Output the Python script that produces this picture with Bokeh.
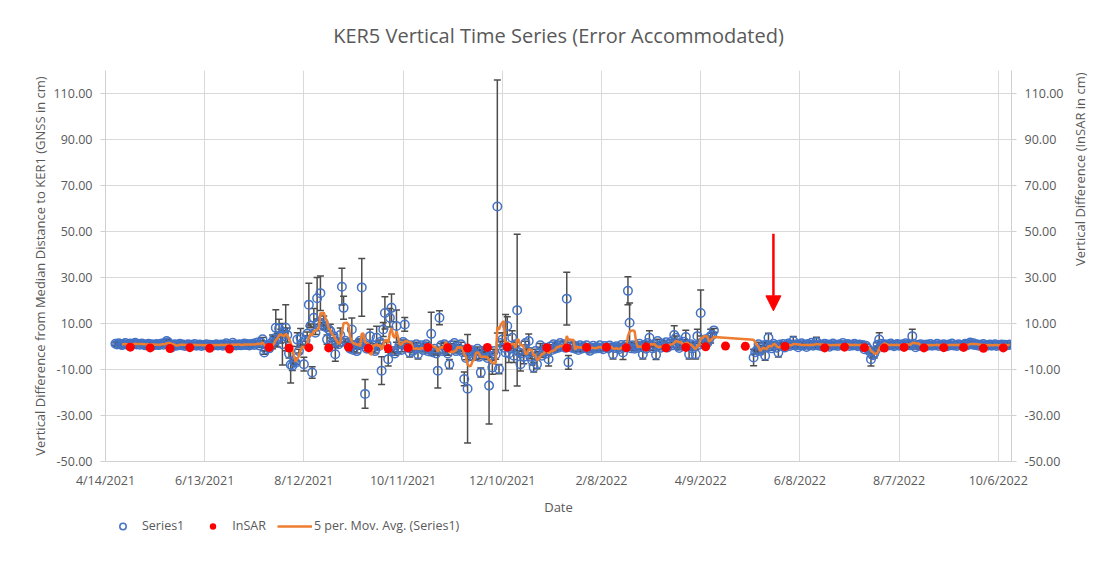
import math
import pandas as pd
from bokeh.plotting import figure
from bokeh.layouts import column
from bokeh.models import (ColumnDataSource, Range1d, LinearAxis, FixedTicker, NumeralTickFormatter,
                          Whisker, TeeHead, Legend, LegendItem, Arrow, NormalHead, Label)
from bokeh.embed import file_html
from bokeh.resources import INLINE

# ---------------- data ----------------
title_text = "KER5 Vertical Time Series (Error Accommodated)"
x_tick_dates = ["2021-04-14", "2021-06-13", "2021-08-12", "2021-10-11", "2021-12-10",
                "2022-02-08", "2022-04-09", "2022-06-08", "2022-08-07", "2022-10-06"]
x_tick_labels = ["4/14/2021", "6/13/2021", "8/12/2021", "10/11/2021", "12/10/2021",
                 "2/8/2022", "4/9/2022", "6/8/2022", "8/7/2022", "10/6/2022"]
x_start, x_end = "2021-04-14", "2022-10-14"
y_ticks = [-50, -30, -10, 10, 30, 50, 70, 90, 110]
y_min, y_max = -50, 120

# GNSS daily solutions (cm), in four continuous daily segments
gnss_seg_starts = ["2021-04-20", "2021-07-15", "2022-02-01", "2022-05-11"]
gnss_seg1 = [1.2, 0.9, 1.4, 1.0, 0.6, 1.1, 1.5, 0.8, 1.0, 1.3, 0.7, 1.2, 1.6, 0.9, 1.1,
             0.8, 1.3, 1.0, 0.5, 0.9, 1.2, 0.7, 1.0, 0.4, 0.8, 1.1, 0.6, 0.9, 1.3, 0.8,
             1.5, 2.4, 1.8, 0.7, -0.4, 0.6, 1.0, 0.3, 0.8, 1.2, 0.5, 0.9, 0.2, 0.7, 1.0,
             0.4, 0.8, 0.5, 1.1, 0.3, 0.6, 0.9, 0.2, 0.7, 0.5, 1.0, 0.4, 0.8, 0.6, 0.3,
             0.7, 1.0, 0.4, 0.6, 0.9, 0.3, 0.8, 1.4, 0.5, 0.2, 0.7, 1.6, 0.9, 0.4, 0.6,
             1.0, 0.5, 0.8, 1.3, 0.6, 1.1, 0.4, 0.9, 1.2, 0.7, 1.5]
gnss_seg2 = [1.7, 0.4, 1.7, 3.1, -2.6, -1.2, 0.5, -0.8, 1.2, 2.0,
             3.5, 8.1, 2.8, 7.8, 4.5, 1.0, 6.0, 8.1, 5.0, -3.0,
             -7.9, -8.4, -6.5, -7.0, 3.0, -2.0, 3.8, 1.5, -7.7, 2.7,
             5.5, 18.2, 9.0, -11.3, 12.5, 6.0, 21.0, 10.5, 23.2, 9.5,
             10.3, 8.5, 3.0, 7.5, 6.7, 1.5, 4.5, -3.4, 2.0, 1.0,
             5.0, 26.0, 16.8, 2.5, 1.5, 0.5, -1.0, 7.4, -1.5, 0.5,
             -2.0, 1.0, 2.5, 25.7, 1.0, -20.6, -1.0, 0.5, 4.5, -1.5,
             0.5, -2.0, 3.8, 0.0, 2.0, -10.5, 7.4, 14.6, 1.0, -5.5,
             12.5, 16.8, -2.0, -3.0, 8.9, -1.0, 1.0, -1.5, 2.0, 9.6,
             1.0, -0.5, -2.6, 0.5, -1.9, -1.0, 1.0, -3.4, -0.5, 0.5,
             -1.5, 0.0, 1.0, -2.0, -1.0, 5.5, -2.5, -1.0, -3.0, -10.5,
             12.5, 0.5, -2.0, 1.0, -1.5, -3.0, -7.7, 0.5, -1.0, 1.5,
             -2.0, 0.0, -1.5, 1.0, -2.5, -14.1, -5.0, -18.4, -3.0, -1.5,
             -4.0, -2.5, -3.5, -1.0, -4.5, -11.3, -2.0, -3.5, -1.5, -5.0,
             -17.0, -4.0, -9.1, -2.0, -3.5, 60.9, -9.8, 1.5, 3.0, -0.5,
             -2.6, 8.9, -3.0, -1.0, 3.8, -4.0, 1.0, 15.8, -2.5, -7.7,
             -3.0, -4.5, 1.5, -2.0, 2.4, -4.5, -6.0, -9.1, -2.0, -7.7,
             -3.0, 0.5, -4.0, -2.0, -0.5, -3.0, -5.5, 0.0, -1.5, 1.0,
             -1.0, 0.5, -0.5, 1.5, 0.0, 1.0, -0.5, 20.8, -6.9, 1.0,
             -0.5, 0.5, -1.0, 0.0, -1.5, 0.5, -1.0, 0.0, -0.5, 0.5,
             -1.0]
gnss_seg3 = [-1.9, -0.5, 0.3, -1.0, -0.2, -0.8, 0.5, -0.6, -1.2, 0.2,
             -0.4, -0.9, 0.4, -0.3, -3.4, -0.7, 0.1, -0.5, -1.1, 0.6,
             -2.6, -0.4, 0.8, 24.2, 10.3, -0.8, 0.5, -1.0, 0.2, -0.6,
             1.2, -0.3, -3.4, 0.8, -1.0, 1.5, 3.8, 0.5, -0.8, 1.0,
             -3.6, 2.4, 0.3, -0.5, 1.2, 0.0, 1.8, -0.4, 0.9, 2.0,
             0.5, 5.0, 3.8, 0.2, -0.6, 1.5, 0.3, 2.1, 4.1, 0.5,
             -3.4, 1.0, -0.8, 0.4, -3.4, 4.5, 0.8, 14.6, 2.0, 1.0,
             3.2, 1.5, 2.8, 4.5, 5.0, 7.0]
gnss_seg4 = [-4.8, -2.5, -1.5, 1.0, -2.0, -0.5, 0.5, -4.0, 0.8, 3.8,
             0.2, -0.8, 1.2, 0.4, -0.5, -2.6, 0.9, 0.3, 1.1, -0.4,
             0.7, 1.3, 0.2, 0.8, 2.4, 0.5, 1.0, -0.3, 0.6, 1.4,
             0.4, 0.9, -0.2, 1.1, 0.5, 1.6, 0.3, 0.8, 2.0, 0.4,
             1.0, 0.1, 0.7, 1.2, 0.3, 0.9, -0.1, 0.6, 1.3, 0.4,
             0.8, 0.2, 1.0, 0.5, 1.5, 0.3, 0.7, 1.1, 0.2, 0.8,
             0.4, 1.2, 0.6, 0.1, 0.9, 0.4, 0.7, -1.2, 0.3, -0.8,
             -2.0, -5.5, -3.8, -3.0, -1.5, 0.8, 3.0, 1.2, 0.5, 1.0,
             0.2, 0.9, 0.4, 1.3, 0.6, 0.1, 0.8, 1.1, 0.3, 0.7,
             1.0, 0.4, 1.4, 0.6, 0.9, 0.5, 4.5, 1.2, -0.3, 0.7,
             0.2, 1.0, 0.5, 0.8, 0.1, 0.9, 0.4, 1.1, 0.3, 0.7,
             0.5, 1.2, 0.2, 0.8, 0.4, 1.0, 0.6, 0.1, 0.9, 0.5,
             1.3, 0.4, 0.7, 0.2, 1.0, 0.6, 0.3, 0.8, 1.2, 0.5,
             1.1, 1.7, 0.9, 1.4, 0.6, 1.0, 0.3, 0.8, 0.5, 1.1,
             0.2, 0.7, 0.4, 0.9, 0.3, 0.6, 1.0, 0.2, 0.7, 0.5,
             0.9, 0.3, 0.8, 0.4, 0.6, 0.9]

gnss_default_error = 0.8
gnss_errors = {
    "2021-07-24": 3.0, "2021-07-26": 7.9, "2021-07-27": 3.0, "2021-07-28": 4.0, "2021-07-29": 3.0,
    "2021-07-30": 9.0, "2021-08-01": 10.0, "2021-08-02": 3.0, "2021-08-03": 2.0, "2021-08-04": 8.0,
    "2021-08-05": 2.0, "2021-08-08": 3.0, "2021-08-10": 4.0, "2021-08-12": 3.0, "2021-08-13": 2.0,
    "2021-08-15": 9.3, "2021-08-17": 2.5, "2021-08-18": 4.0, "2021-08-20": 9.0, "2021-08-22": 7.5,
    "2021-08-24": 3.0, "2021-08-26": 2.0, "2021-08-28": 3.0, "2021-08-31": 3.0, "2021-09-03": 3.0,
    "2021-09-04": 8.0, "2021-09-05": 5.0, "2021-09-10": 5.0, "2021-09-14": 2.0, "2021-09-16": 12.6,
    "2021-09-18": 6.2, "2021-09-21": 3.0, "2021-09-25": 5.0, "2021-09-28": 6.0, "2021-09-29": 3.0,
    "2021-09-30": 7.0, "2021-10-02": 3.0, "2021-10-03": 4.0, "2021-10-04": 6.0, "2021-10-07": 7.0,
    "2021-10-08": 2.0, "2021-10-12": 3.0, "2021-10-15": 2.0, "2021-10-20": 2.0, "2021-10-28": 9.4,
    "2021-11-01": 7.5, "2021-11-02": 3.0, "2021-11-06": 2.0, "2021-11-08": 2.0, "2021-11-17": 3.0,
    "2021-11-19": 23.6, "2021-11-22": 2.0, "2021-11-24": 2.0, "2021-11-27": 2.0, "2021-12-02": 16.7,
    "2021-12-04": 3.0, "2021-12-06": 2.0, "2021-12-07": 55.0, "2021-12-08": 2.0, "2021-12-10": 3.0,
    "2021-12-12": 16.5, "2021-12-13": 4.0, "2021-12-14": 4.0, "2021-12-16": 3.0, "2021-12-17": 3.0,
    "2021-12-19": 33.0, "2021-12-21": 3.0, "2021-12-23": 3.0, "2021-12-26": 3.0, "2021-12-28": 2.0,
    "2021-12-29": 2.0, "2021-12-31": 2.0, "2022-01-07": 3.0, "2022-01-18": 11.5, "2022-01-19": 3.0,
    "2022-02-15": 2.0, "2022-02-21": 3.0, "2022-02-24": 6.1, "2022-02-25": 8.6, "2022-03-05": 2.0,
    "2022-03-09": 3.0, "2022-03-13": 2.0, "2022-03-24": 4.0, "2022-03-31": 3.0, "2022-04-02": 2.0,
    "2022-04-06": 2.0, "2022-04-07": 3.0, "2022-04-09": 10.0, "2022-04-15": 3.0,
    "2022-05-11": 3.6, "2022-05-18": 2.0, "2022-05-20": 2.0, "2022-05-26": 2.0, "2022-06-04": 2.0,
    "2022-06-18": 2.0, "2022-07-21": 3.0, "2022-07-23": 2.0, "2022-07-26": 3.0, "2022-08-15": 3.0,
}

insar_dates = ["2021-04-29", "2021-05-11", "2021-05-23", "2021-06-04", "2021-06-16", "2021-06-28",
               "2021-07-22", "2021-08-03", "2021-08-15", "2021-08-27", "2021-09-08", "2021-09-20",
               "2021-10-02", "2021-10-14", "2021-10-26", "2021-11-07", "2021-11-19", "2021-12-01",
               "2021-12-13", "2022-01-06", "2022-01-18", "2022-01-30", "2022-02-11", "2022-02-23",
               "2022-03-07", "2022-03-19", "2022-03-31", "2022-04-12", "2022-04-24", "2022-05-06",
               "2022-05-30", "2022-06-23", "2022-07-05", "2022-07-17", "2022-07-29", "2022-08-10",
               "2022-08-22", "2022-09-03", "2022-09-15", "2022-09-27", "2022-10-09"]
insar_values = [-0.3, -0.6, -0.9, -0.5, -0.8, -1.1,
                -0.4, -0.7, -0.5, -0.6, -0.3, -0.8,
                -0.9, -0.6, -0.4, -0.5, -0.7, -0.4,
                -0.2, -0.5, -0.6, -0.4, -0.3, -0.5,
                -0.2, -0.6, -0.4, -0.1, 0.2, 0.1,
                0.0, -0.6, -0.3, -0.5, -0.7, -0.4,
                -0.6, -0.5, -0.4, -0.8, -0.6]

ma_period = 5
legend_labels = ["Series1", "InSAR", "5 per. Mov. Avg. (Series1)"]

# annotation arrow (data coordinates)
arrow_date = "2022-05-23"
arrow_y_start, arrow_y_end = 49.0, 15.5

# ---------------- build sources ----------------
dates, vals = [], []
for start, seg in zip(gnss_seg_starts, [gnss_seg1, gnss_seg2, gnss_seg3, gnss_seg4]):
    dates.extend(pd.date_range(start, periods=len(seg), freq="D"))
    vals.extend(seg)
gdf = pd.DataFrame({"date": pd.to_datetime(dates), "value": vals})
gdf["err"] = [gnss_errors.get(d.strftime("%Y-%m-%d"), gnss_default_error) for d in gdf["date"]]
gdf["upper"] = gdf["value"] + gdf["err"]
gdf["lower"] = gdf["value"] - gdf["err"]
gdf["ma"] = gdf["value"].rolling(ma_period).mean()
gsrc = ColumnDataSource(gdf)
masrc = ColumnDataSource(gdf.dropna(subset=["ma"]))
isrc = ColumnDataSource(pd.DataFrame({"date": pd.to_datetime(insar_dates), "value": insar_values}))

def ms(d):
    return int(pd.Timestamp(d).value // 10**6)

GRAY = "#595959"
FONT = "Open Sans"
BLUE, RED, ORANGE, EB = "#4472C4", "#FF0000", "#ED7D31", "#4d4d4d"
W = 1100
H_TITLE, H_MAIN, H_LEG = 50, 468, 60

# ---------------- title strip ----------------
pt = figure(width=W, height=H_TITLE, x_axis_type=None, y_axis_type=None, output_backend="svg",
            toolbar_location=None, tools="", title_location=None, min_border=0,
            x_range=Range1d(0, 1), y_range=Range1d(0, H_TITLE))
pt.outline_line_color = None
pt.grid.visible = False
pt.add_layout(Label(x=0.5, y=15, text=title_text, text_align="center", text_baseline="middle",
                    text_font=FONT, text_font_size="20px", text_color=GRAY))

# ---------------- main chart ----------------
p = figure(width=W, height=H_MAIN, x_axis_type="datetime", output_backend="svg",
           toolbar_location=None, tools="", title_location=None,
           x_range=Range1d(ms(x_start), ms(x_end)), y_range=Range1d(y_min, y_max),
           min_border_left=105, min_border_right=89, min_border_top=20, min_border_bottom=54)
p.outline_line_color = None

x_ticker = FixedTicker(ticks=[ms(d) for d in x_tick_dates])
xa = p.xaxis[0]
xa.ticker = x_ticker
xa.major_label_overrides = {ms(d): lab for d, lab in zip(x_tick_dates, x_tick_labels)}
xa.axis_label = "Date"

y_ticker = FixedTicker(ticks=y_ticks)
ya = p.yaxis[0]
ya.ticker = y_ticker
ya.formatter = NumeralTickFormatter(format="0.00")
ya.axis_label = "Vertical Difference from Median Distance to KER1 (GNSS in cm)"

p.extra_y_ranges = {"insar": Range1d(y_min, y_max)}
ra = LinearAxis(y_range_name="insar", ticker=FixedTicker(ticks=y_ticks),
                formatter=NumeralTickFormatter(format="0.00"),
                axis_label="Vertical Difference (InSAR in cm)")
p.add_layout(ra, "right")
ra.axis_label_orientation = math.pi / 2

for ax in [xa, ya, ra]:
    ax.axis_line_color = "#d0d0d0"
    ax.major_tick_line_color = "#d0d0d0"
    ax.minor_tick_line_color = None
    ax.major_label_text_font = FONT
    ax.major_label_text_font_size = "12.5px"
    ax.major_label_text_color = GRAY
    ax.axis_label_text_font = FONT
    ax.axis_label_text_font_size = "13px"
    ax.axis_label_text_font_style = "normal"
    ax.axis_label_text_color = GRAY
xa.major_tick_out = 0
xa.major_tick_in = 0
xa.major_label_standoff = 10
xa.axis_label_standoff = 6
for ax in [ya, ra]:
    ax.major_tick_out = 5
    ax.major_tick_in = 0
    ax.major_label_standoff = 8
ya.axis_label_standoff = 1
ra.axis_label_standoff = 13

p.xgrid.ticker = x_ticker
p.ygrid.ticker = y_ticker
p.xgrid.grid_line_color = "#d9d9d9"
p.ygrid.grid_line_color = "#d9d9d9"

wh = Whisker(source=gsrc, base="date", upper="upper", lower="lower", dimension="height",
             line_color=EB, line_width=1.5, level="underlay",
             upper_head=TeeHead(size=7, line_color=EB, line_width=1.5),
             lower_head=TeeHead(size=7, line_color=EB, line_width=1.5))
p.add_layout(wh)

gnss_style = dict(marker="circle", size=8.5, fill_color=None, line_color=BLUE, line_width=1.5)
insar_style = dict(marker="circle", size=9, fill_color=RED, line_color=None)
ma_style = dict(line_color=ORANGE, line_width=2.5)

p.scatter("date", "value", source=gsrc, **gnss_style)
p.line("date", "ma", source=masrc, **ma_style)
p.scatter("date", "value", source=isrc, y_range_name="insar", **insar_style)

p.add_layout(Arrow(x_start=ms(arrow_date), y_start=arrow_y_start,
                   x_end=ms(arrow_date), y_end=arrow_y_end,
                   line_color=RED, line_width=2.5,
                   end=NormalHead(size=15, fill_color=RED, line_color=RED)))

# ---------------- legend strip (same series, drawn outside this strip's ranges) ----------------
pl = figure(width=W, height=H_LEG, x_axis_type=None, y_axis_type=None, output_backend="svg",
            toolbar_location=None, tools="", title_location=None, min_border=0,
            x_range=Range1d(0, 1), y_range=Range1d(0, 1))
pl.outline_line_color = None
pl.grid.visible = False
lg1 = pl.scatter("date", "value", source=gsrc, **gnss_style)
lg2 = pl.scatter("date", "value", source=isrc, **insar_style)
lg3 = pl.line("date", "ma", source=masrc, **ma_style)
legend = Legend(items=[LegendItem(label=legend_labels[0], renderers=[lg1]),
                       LegendItem(label=legend_labels[1], renderers=[lg2]),
                       LegendItem(label=legend_labels[2], renderers=[lg3])],
                orientation="horizontal", location=(0, 44),
                glyph_width=35, glyph_height=16, label_standoff=2, spacing=11,
                padding=0, margin=0, border_line_color=None, background_fill_alpha=0,
                label_text_font=FONT, label_text_font_size="12.5px", label_text_color=GRAY)
pl.add_layout(legend)

layout = column(pt, p, pl, spacing=0)
open("out.html", "w").write(file_html(layout, INLINE))
